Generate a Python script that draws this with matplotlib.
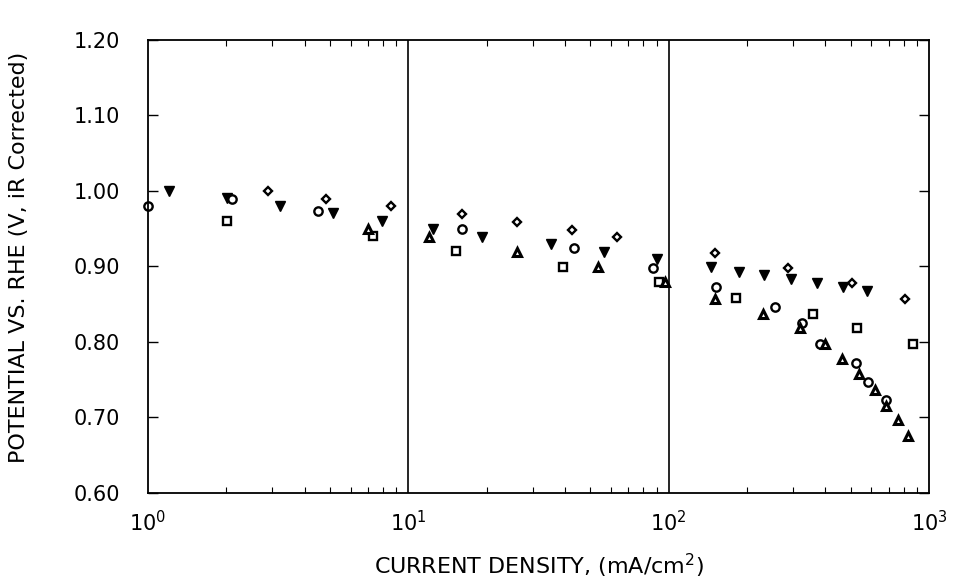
import matplotlib
matplotlib.use("Agg")
import matplotlib.pyplot as plt
from matplotlib.ticker import FixedLocator, LogLocator, NullFormatter

# current density (mA/cm2) and potential (V vs RHE) per series
diamond_x = [2.89, 4.83, 8.6, 16.1, 26.1, 42.5, 63.2, 150.6, 287, 507, 810]
diamond_y = [1.00, 0.989, 0.98, 0.97, 0.959, 0.948, 0.939, 0.918, 0.898, 0.878, 0.857]

tri_down_x = [1.2, 2.01, 3.21, 5.13, 7.9, 12.4, 19.2, 35.3, 56.5, 90, 145.6, 186, 232, 294, 373, 467, 577]
tri_down_y = [1.00, 0.991, 0.98, 0.971, 0.96, 0.95, 0.939, 0.93, 0.919, 0.91, 0.899, 0.893, 0.889, 0.883, 0.878, 0.873, 0.868]

circle_x = [1.0, 2.1, 4.5, 16.1, 43.3, 86.7, 151.6, 256, 325, 380, 526, 585, 685]
circle_y = [0.98, 0.99, 0.973, 0.95, 0.924, 0.898, 0.873, 0.846, 0.825, 0.797, 0.772, 0.747, 0.723]

square_x = [2.01, 7.3, 15.2, 39.4, 91.9, 181, 358, 529, 868]
square_y = [0.96, 0.94, 0.921, 0.899, 0.879, 0.858, 0.837, 0.819, 0.797]

tri_up_x = [7.0, 12.0, 26.1, 53.5, 96.5, 151, 230, 320, 400, 464, 537, 623, 685, 760, 829]
tri_up_y = [0.95, 0.939, 0.919, 0.899, 0.879, 0.857, 0.837, 0.818, 0.797, 0.777, 0.758, 0.736, 0.715, 0.697, 0.676]

y_ticks = [0.60, 0.70, 0.80, 0.90, 1.00, 1.10, 1.20]

plt.rcParams["font.family"] = ["DejaVu Sans"]
plt.rcParams["mathtext.fontset"] = "dejavusans"

fig = plt.figure(figsize=(9.57, 5.81), dpi=100)
ax = fig.add_axes([0.1547, 0.1515, 0.816, 0.7797])

ax.plot(diamond_x, diamond_y, "D", ms=4.5, mfc="white", mec="black", mew=1.7, ls="none", clip_on=False)
ax.plot(tri_down_x, tri_down_y, "v", ms=7, mfc="black", mec="black", mew=1.0, ls="none", clip_on=False)
ax.plot(circle_x, circle_y, "o", ms=6, mfc="white", mec="black", mew=1.7, ls="none", clip_on=False)
ax.plot(square_x, square_y, "s", ms=6, mfc="white", mec="black", mew=1.7, ls="none", clip_on=False)
ax.plot(tri_up_x, tri_up_y, "^", ms=5.5, mfc="white", mec="black", mew=2.2, ls="none", clip_on=False)

ax.set_xscale("log")
ax.set_xlim(1, 1000)
ax.set_ylim(0.60, 1.20)

for xv in [10, 100]:
    ax.axvline(xv, color="black", lw=1.2)

ax.yaxis.set_major_locator(FixedLocator(y_ticks))
ax.set_yticklabels([f"{v:.2f}" for v in y_ticks])
ax.xaxis.set_minor_locator(LogLocator(base=10, subs=range(2, 10)))
ax.xaxis.set_minor_formatter(NullFormatter())

ax.tick_params(axis="both", which="both", direction="in", top=True, right=True, colors="black")
ax.tick_params(axis="y", which="major", length=7, width=1, labelsize=15, pad=20)
ax.tick_params(axis="x", which="major", length=0, labelsize=15, pad=12)
ax.tick_params(axis="x", which="minor", length=4, width=0.8)

for s in ax.spines.values():
    s.set_linewidth(1.3)

ax.set_xlabel("CURRENT DENSITY, (mA/cm$^2$)", fontsize=16, labelpad=12)
ax.set_ylabel("POTENTIAL VS. RHE (V, iR Corrected)", fontsize=16)
ax.yaxis.set_label_coords(-0.152, 0.52)

fig.savefig("out.png", dpi=100)
